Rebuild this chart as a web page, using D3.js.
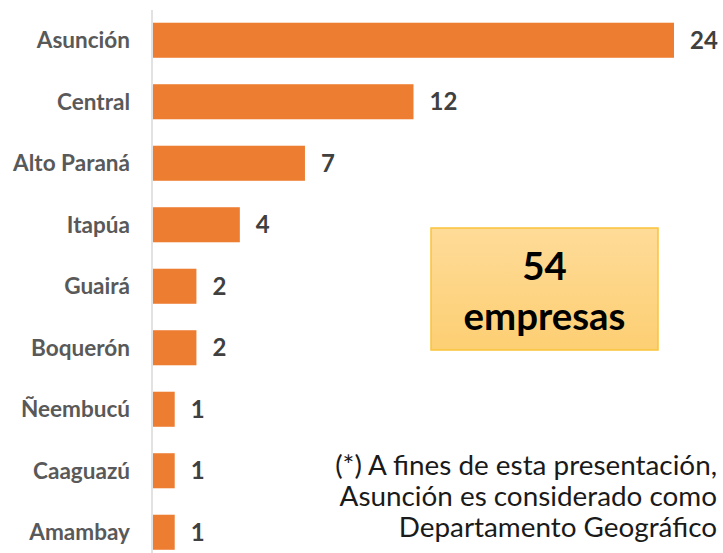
<!DOCTYPE html>
<html><head><meta charset="utf-8">
<script src="https://cdn.jsdelivr.net/npm/d3@7"></script>
<style>html,body{margin:0;padding:0;background:#fff;}svg{display:block;}</style>
</head><body>
<svg id="c" width="723" height="553"></svg>
<script>
const categories = ["Asunción","Central","Alto Paraná","Itapúa","Guairá","Boquerón","Ñeembucú","Caaguazú","Amambay"];
const values = [24,12,7,4,2,2,1,1,1];
const totalLines = ["54","empresas"];
const noteLines = ["(*) A fines de esta presentación,","Asunción es considerado como","Departamento Geográfico"];

const svg = d3.select("#c");
const font = "Lato, 'Open Sans', sans-serif";
const x = d3.scaleLinear().domain([0,24]).range([153,674]);
const y = d3.scaleBand().domain(categories).range([9.5,563]).paddingInner(0.43).paddingOuter(0.215);

svg.append("defs").append("linearGradient").attr("id","g").attr("x1",0).attr("x2",0).attr("y1",0).attr("y2",1)
  .call(g=>{g.append("stop").attr("offset","0%").attr("stop-color","#fedb98");
            g.append("stop").attr("offset","100%").attr("stop-color","#fdcf73");});

svg.selectAll("rect.bar").data(values).join("rect").attr("class","bar")
  .attr("x",x(0)).attr("y",(d,i)=>y(categories[i]))
  .attr("width",d=>x(d)-x(0)).attr("height",y.bandwidth()).attr("fill","#ed7d31");

svg.append("line").attr("x1",152).attr("x2",152).attr("y1",10).attr("y2",553)
  .attr("stroke","#d9d9d9").attr("stroke-width",1.5);

const ct = svg.selectAll("text.cat").data(categories).join("text").attr("class","cat")
  .attr("x",130).attr("y",d=>y(d)+y.bandwidth()/2).attr("dy","0.35em")
  .attr("text-anchor","end").attr("font-family",font).attr("font-weight","bold")
  .attr("font-size",17).attr("fill","#595959").text(d=>d);
const wc = ct.nodes()[2].getComputedTextLength();
ct.attr("font-size", 17*117/wc);

svg.selectAll("text.val").data(values).join("text").attr("class","val")
  .attr("x",d=>x(d)+16).attr("y",(d,i)=>y(categories[i])+y.bandwidth()/2).attr("dy","0.36em")
  .attr("font-family",font).attr("font-weight","bold").attr("font-size",24).attr("fill","#404040").text(d=>d);

svg.append("rect").attr("x",431).attr("y",228).attr("width",227).attr("height",122)
  .attr("fill","url(#g)").attr("stroke","#fac43a").attr("stroke-width",1.5);
const tt = svg.selectAll("text.tot").data(totalLines).join("text").attr("class","tot")
  .attr("x",544.5).attr("y",(d,i)=>266+i*50).attr("dy","0.36em").attr("text-anchor","middle")
  .attr("font-family",font).attr("font-weight","bold").attr("font-size",35).attr("fill","#000").text(d=>d);
const wt = tt.nodes()[1].getComputedTextLength();
tt.attr("font-size", 35*162/wt);

const nt = svg.selectAll("text.note").data(noteLines).join("text").attr("class","note")
  .attr("x",717).attr("y",(d,i)=>465+i*31).attr("dy","0.35em").attr("text-anchor","end")
  .attr("font-family",font).attr("font-size",22).attr("fill","#1a1a1a").text(d=>d);
const w0 = nt.nodes()[0].getComputedTextLength();
nt.attr("font-size", 22*382/w0);
</script>
</body></html>
